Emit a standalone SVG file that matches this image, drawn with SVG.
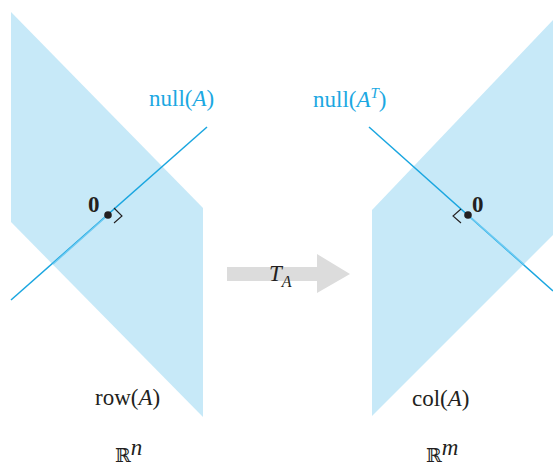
<svg xmlns="http://www.w3.org/2000/svg" width="553" height="466" viewBox="0 0 553 466">
<style>
.plane{fill:#c7e9f8;stroke:none}
.ln{stroke:#1aa6e0;stroke-width:1.5;fill:none}
.lnl{stroke:#6ccaf2;stroke-width:1.5;fill:none}
.ra{stroke:#231f20;stroke-width:1.1;fill:none}
.t{font-family:"Liberation Serif","Times New Roman",serif;font-size:23px;fill:#231f20}
.c{fill:#1ba8e2}
.b{font-weight:bold}
.bb{font-family:"DejaVu Serif","Liberation Serif",serif;font-size:19px;fill:#231f20}
</style>
<rect width="553" height="466" fill="#ffffff"/>
<g id="row-plane">
<polygon class="plane" points="11,12 203,208 203,417 11,222"/>
<text class="t" x="95" y="405">row(<tspan font-style="italic">A</tspan>)</text>
</g>
<g id="col-plane">
<polygon class="plane" points="553,20 372,210 372,416 553,235"/>
<text class="t" x="412" y="406">col(<tspan font-style="italic">A</tspan>)</text>
</g>
<g id="connectors">
<line class="ln" x1="11" y1="300" x2="207" y2="127"/>
<line class="lnl" x1="108" y1="215" x2="53" y2="264"/>
<line class="ln" x1="369" y1="127" x2="553" y2="291"/>
<line class="lnl" x1="468" y1="215" x2="524" y2="264.5"/>
<polygon points="227,267 317,267 317,254 350,274 317,293 317,281 227,281" fill="#dcdcdc"/>
</g>
<g id="null-A">
<text class="t c" x="149" y="106">null(<tspan font-style="italic">A</tspan>)</text>
</g>
<g id="null-AT">
<text class="t c" x="313" y="107">null(<tspan font-style="italic">A</tspan><tspan font-style="italic" font-size="15" dy="-9">T</tspan><tspan dy="9">)</tspan></text>
</g>
<g id="origin-left">
<circle cx="108" cy="215" r="3.8" fill="#231f20"/>
<polyline class="ra" points="114,208 122,216 114,223"/>
<text class="t b" x="88" y="212">0</text>
</g>
<g id="origin-right">
<circle cx="468" cy="215" r="3.8" fill="#231f20"/>
<polyline class="ra" points="461,209 453,216 461,223"/>
<text class="t b" x="472" y="212">0</text>
</g>
<g id="TA">
<text class="t" x="269" y="281" font-style="italic">T<tspan font-size="16" dy="6">A</tspan></text>
</g>
<g id="Rn">
<text class="bb" x="115" y="462">ℝ<tspan class="t" font-style="italic" font-size="17" dy="-7">n</tspan></text>
</g>
<g id="Rm">
<text class="bb" x="426" y="462">ℝ<tspan class="t" font-style="italic" font-size="17" dy="-7">m</tspan></text>
</g>
</svg>
